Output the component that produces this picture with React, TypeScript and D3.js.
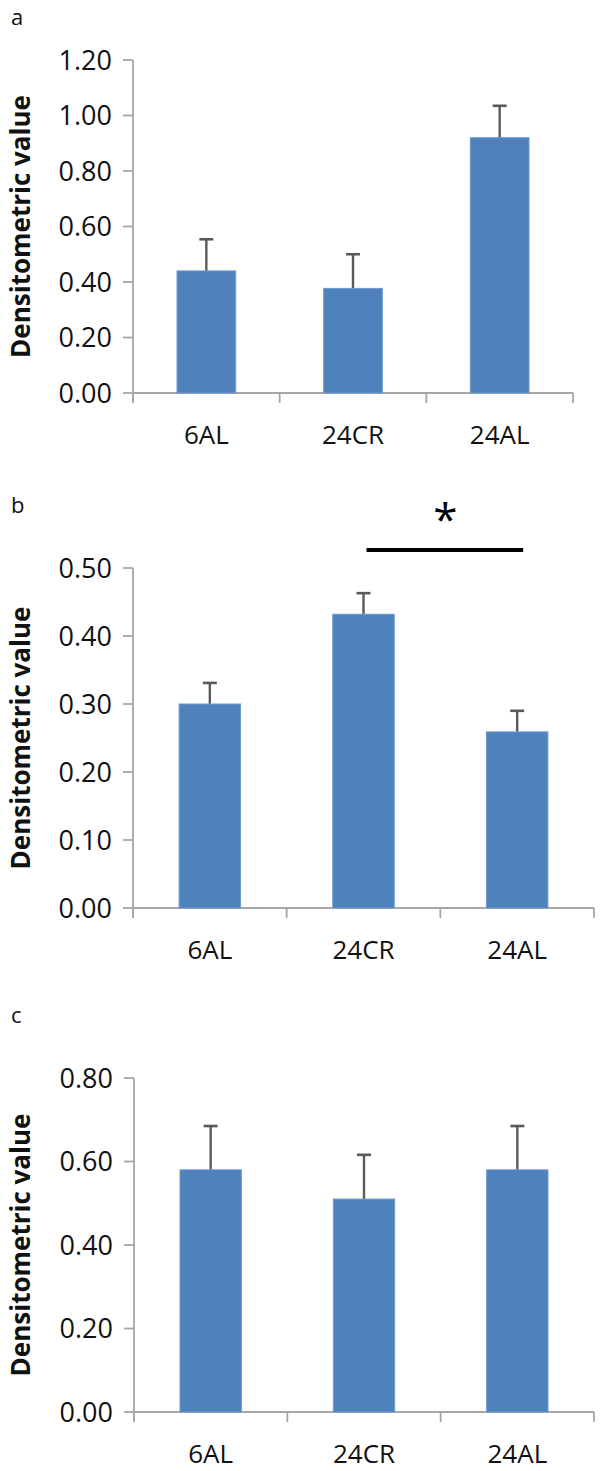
import React from "react";
import * as d3 from "d3";

const categories = ["6AL", "24CR", "24AL"];

const aMeans = [0.44, 0.377, 0.92];
const aErrors = [0.114, 0.123, 0.115];
const aTicks = [0, 0.2, 0.4, 0.6, 0.8, 1.0, 1.2];

const bMeans = [0.3, 0.432, 0.259];
const bErrors = [0.031, 0.031, 0.031];
const bTicks = [0, 0.1, 0.2, 0.3, 0.4, 0.5];

const cMeans = [0.58, 0.51, 0.58];
const cErrors = [0.105, 0.106, 0.105];
const cTicks = [0, 0.2, 0.4, 0.6, 0.8];

const yLabel = "Densitometric value";

type PanelProps = {
  letter: string;
  letterY: number;
  means: number[];
  errors: number[];
  ticks: number[];
  x0: number;
  x1: number;
  yTop: number;
  y0: number;
  sig?: boolean;
};

const FONT = "'Open Sans', 'DejaVu Sans', sans-serif";
const BAR = "#4F81BD";
const AXIS = "#a6a6a6";
const ERR = "#5a5a5a";

function Panel({ letter, letterY, means, errors, ticks, x0, x1, yTop, y0, sig }: PanelProps) {
  const max = ticks[ticks.length - 1];
  const y = d3.scaleLinear().domain([0, max]).range([y0, yTop]);
  const x = d3.scaleBand<string>().domain(categories).range([x0, x1]).paddingInner(0.6).paddingOuter(0.3);
  const band = d3.scaleBand<string>().domain(categories).range([x0, x1]);
  const boundaries = [x0, ...categories.map((c) => (band(c) as number) + band.bandwidth())];
  const cap = 7;
  const center = (c: string) => (x(c) as number) + x.bandwidth() / 2;
  return (
    <g>
      <text x={11} y={letterY} fontFamily={FONT} fontSize={22} fill="#111">
        {letter}
      </text>
      {/* y axis */}
      <line x1={x0} x2={x0} y1={yTop} y2={y0 + 10} stroke={AXIS} strokeWidth={1.8} />
      {ticks.map((t) => (
        <g key={t}>
          <line x1={x0 - 10} x2={x0} y1={y(t)} y2={y(t)} stroke={AXIS} strokeWidth={1.8} />
          <text
            x={x0 - 21}
            y={y(t)}
            dy="0.36em"
            textAnchor="end"
            fontFamily={FONT}
            fontSize={27}
            fill="#111"
          >
            {t.toFixed(2)}
          </text>
        </g>
      ))}
      {/* x axis */}
      <line x1={x0} x2={x1} y1={y0} y2={y0} stroke={AXIS} strokeWidth={1.8} />
      {boundaries.map((bx, i) => (
        <line key={i} x1={bx} x2={bx} y1={y0} y2={y0 + 10} stroke={AXIS} strokeWidth={1.8} />
      ))}
      {/* bars */}
      {categories.map((c, i) => {
        const bx = x(c) as number;
        const cx = center(c);
        return (
          <g key={c}>
            <line x1={cx} x2={cx} y1={y(means[i])} y2={y(means[i] + errors[i])} stroke={ERR} strokeWidth={2.4} />
            <line x1={cx - cap} x2={cx + cap} y1={y(means[i] + errors[i])} y2={y(means[i] + errors[i])} stroke={ERR} strokeWidth={2.6} />
            <rect
              x={bx}
              y={y(means[i])}
              width={x.bandwidth()}
              height={y0 - y(means[i])}
              fill={BAR}
              stroke="#6f98cc"
              strokeWidth={1}
            />
            <text
              x={cx}
              y={y0 + 51}
              textAnchor="middle"
              fontFamily={FONT}
              fontSize={26}
              fill="#111"
            >
              {c}
            </text>
          </g>
        );
      })}
      {/* y label */}
      <text
        transform={`translate(${30},${(yTop + y0) / 2}) rotate(-90)`}
        textAnchor="middle"
        fontFamily={FONT}
        fontWeight="bold"
        fontSize={26}
        fill="#111"
      >
        {yLabel}
      </text>
      {sig && (
        <g>
          <line
            x1={center(categories[1]) + 3}
            x2={center(categories[2]) + 6}
            y1={yTop - 18}
            y2={yTop - 18}
            stroke="#000"
            strokeWidth={4}
          />
          <text
            x={(center(categories[1]) + center(categories[2])) / 2 + 5}
            y={yTop - 33}
            textAnchor="middle"
            fontFamily={FONT}
            fontSize={44}
            fill="#000"
          >
            *
          </text>
        </g>
      )}
    </g>
  );
}

export default function App() {
  return (
    <svg
      width={600}
      height={1471}
      viewBox="0 0 600 1471"
      style={{ position: "absolute", left: 0, top: 0, background: "#fff" }}
    >
      <rect width={600} height={1471} fill="#fff" />
      <Panel letter="a" letterY={25} means={aMeans} errors={aErrors} ticks={aTicks} x0={133} x1={573} yTop={60} y0={393} />
      <Panel letter="b" letterY={513} means={bMeans} errors={bErrors} ticks={bTicks} x0={133} x1={594} yTop={568} y0={908} sig />
      <Panel letter="c" letterY={1023} means={cMeans} errors={cErrors} ticks={cTicks} x0={134} x1={594} yTop={1078} y0={1412} />
    </svg>
  );
}
